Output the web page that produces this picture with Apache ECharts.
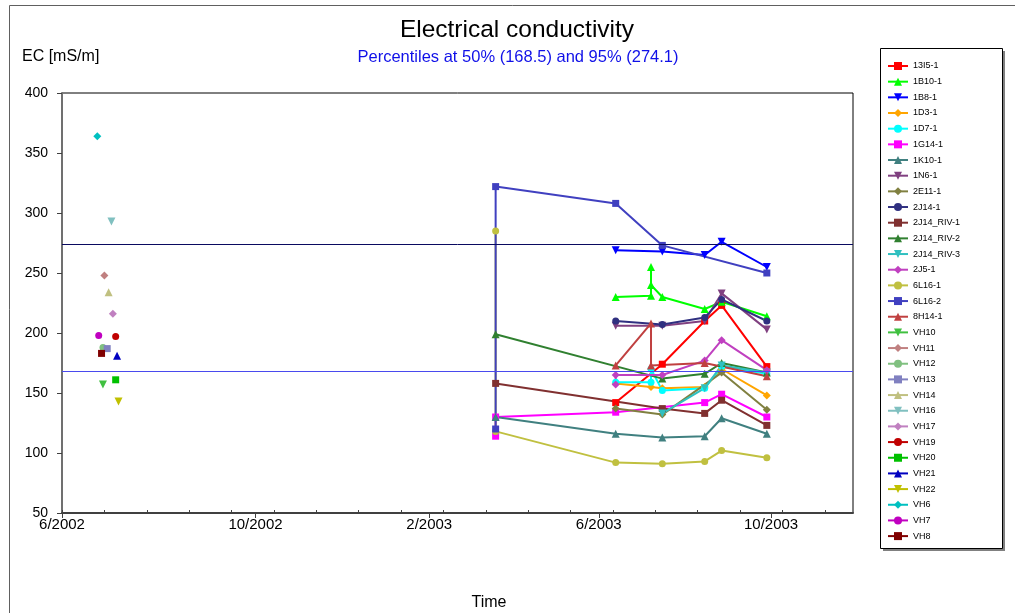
<!DOCTYPE html>
<html>
<head>
<meta charset="utf-8">
<script src="https://cdn.jsdelivr.net/npm/echarts@6/dist/echarts.min.js"></script>
<style>
  html, body { margin: 0; padding: 0; background: #fff; }
  #chart { width: 1015px; height: 613px; }
</style>
</head>
<body>
<div id="chart"></div>
<script>
// ---- texts and reference levels ----
const chartTitle = 'Electrical conductivity';
const yAxisTitle = 'EC [mS/m]';
const xAxisTitle = 'Time';
const p50 = 168.5;
const p95 = 274.1;

// ---- axes ----
const xRange = ['2002-05-17', '2003-11-28'];
const tickDates = ['2002-05-17', '2002-10-01', '2003-02-01', '2003-06-01', '2003-10-01'];
const tickLabels = ['6/2002', '10/2002', '2/2003', '6/2003', '10/2003'];
const yMin = 50, yMax = 400, yStep = 50;

// ---- stations ----
const seriesNames = ['13I5-1', '1B10-1', '1B8-1', '1D3-1', '1D7-1', '1G14-1', '1K10-1', '1N6-1',
  '2E11-1', '2J14-1', '2J14_RIV-1', '2J14_RIV-2', '2J14_RIV-3', '2J5-1', '6L16-1', '6L16-2',
  '8H14-1', 'VH10', 'VH11', 'VH12', 'VH13', 'VH14', 'VH16', 'VH17', 'VH19', 'VH20', 'VH21',
  'VH22', 'VH6', 'VH7', 'VH8'];

// ---- measurements: [date, EC] ----
const s13I5_1 = [['2003-06-13', 142], ['2003-07-16', 174], ['2003-08-15', 210], ['2003-08-27', 223], ['2003-09-28', 172]];
const s1B10_1 = [['2003-06-13', 230], ['2003-07-08', 231], ['2003-07-08', 255], ['2003-07-08', 240], ['2003-07-16', 230], ['2003-08-15', 220], ['2003-08-27', 226], ['2003-09-28', 214]];
const s1B8_1 = [['2003-06-13', 269], ['2003-07-16', 268], ['2003-08-15', 265], ['2003-08-27', 276], ['2003-09-28', 255]];
const s1D3_1 = [['2003-06-13', 158], ['2003-07-08', 155], ['2003-07-16', 154], ['2003-08-15', 155], ['2003-08-27', 170], ['2003-09-28', 148]];
const s1D7_1 = [['2003-06-13', 159], ['2003-07-08', 159], ['2003-07-08', 170], ['2003-07-16', 152], ['2003-08-15', 154], ['2003-08-27', 172], ['2003-09-28', 166]];
const s1G14_1 = [['2003-03-20', 114], ['2003-03-20', 130], ['2003-06-13', 134], ['2003-08-15', 142], ['2003-08-27', 149], ['2003-09-28', 130]];
const s1K10_1 = [['2003-03-20', 130], ['2003-06-13', 116], ['2003-07-16', 113], ['2003-08-15', 114], ['2003-08-27', 129], ['2003-09-28', 116]];
const s1N6_1 = [['2003-06-13', 206], ['2003-07-16', 206], ['2003-08-15', 210], ['2003-08-27', 233], ['2003-09-28', 203]];
const s2E11_1 = [['2003-06-13', 137], ['2003-07-16', 132], ['2003-08-27', 167], ['2003-09-28', 136]];
const s2J14_1 = [['2003-06-13', 210], ['2003-07-16', 207], ['2003-08-15', 213], ['2003-08-27', 228], ['2003-09-28', 210]];
const s2J14_RIV_1 = [['2003-03-20', 158], ['2003-07-16', 137], ['2003-08-15', 133], ['2003-08-27', 144], ['2003-09-28', 123]];
const s2J14_RIV_2 = [['2003-03-20', 199], ['2003-07-16', 162], ['2003-08-15', 166], ['2003-08-27', 175], ['2003-09-28', 167]];
const s2J14_RIV_3 = [['2003-07-16', 133], ['2003-08-15', 154], ['2003-08-27', 173], ['2003-09-28', 167]];
const s2J5_1 = [['2003-06-13', 157], ['2003-06-13', 165], ['2003-07-16', 165], ['2003-08-15', 177], ['2003-08-27', 194], ['2003-09-28', 169]];
const s6L16_1 = [['2003-03-20', 285], ['2003-03-20', 118], ['2003-06-13', 92], ['2003-07-16', 91], ['2003-08-15', 93], ['2003-08-27', 102], ['2003-09-28', 96]];
const s6L16_2 = [['2003-03-20', 120], ['2003-03-20', 322], ['2003-06-13', 308], ['2003-07-16', 273], ['2003-09-28', 250]];
const s8H14_1 = [['2003-06-13', 173], ['2003-07-08', 208], ['2003-07-08', 173], ['2003-08-15', 175], ['2003-09-28', 164]];
const sVH10 = [['2002-06-15', 157]];
const sVH11 = [['2002-06-16', 248]];
const sVH12 = [['2002-06-15', 188]];
const sVH13 = [['2002-06-18', 187]];
const sVH14 = [['2002-06-19', 234]];
const sVH16 = [['2002-06-21', 293]];
const sVH17 = [['2002-06-22', 216]];
const sVH19 = [['2002-06-24', 197]];
const sVH20 = [['2002-06-24', 161]];
const sVH21 = [['2002-06-25', 181]];
const sVH22 = [['2002-06-26', 143]];
const sVH6 = [['2002-06-11', 364]];
const sVH7 = [['2002-06-12', 198]];
const sVH8 = [['2002-06-14', 183]];

const seriesData = [s13I5_1, s1B10_1, s1B8_1, s1D3_1, s1D7_1, s1G14_1, s1K10_1, s1N6_1,
  s2E11_1, s2J14_1, s2J14_RIV_1, s2J14_RIV_2, s2J14_RIV_3, s2J5_1, s6L16_1, s6L16_2,
  s8H14_1, sVH10, sVH11, sVH12, sVH13, sVH14, sVH16, sVH17, sVH19, sVH20, sVH21,
  sVH22, sVH6, sVH7, sVH8];

// ---- per-series styling ----
const colors = ['#ff0000', '#00ff00', '#0000ff', '#ffa500', '#00ffff', '#ff00ff', '#408080', '#804080',
  '#808040', '#303080', '#803030', '#308030', '#30c0c0', '#c040c0', '#c0c040', '#4040c0',
  '#c04040', '#40c040', '#c08080', '#80c080', '#8080c0', '#c0c080', '#80c0c0', '#c080c0',
  '#c00000', '#00c000', '#0000c0', '#c0c000', '#00c0c0', '#c000c0', '#800000'];
// marker cycle: square, triangle, inverted triangle, diamond, circle
const shapeCycle = ['square', 'up', 'down', 'diamond', 'circle'];
const shapeStyle = {
  square:  { symbol: 'rect', size: 7, rotate: 0 },
  up:      { symbol: 'triangle', size: 8, rotate: 0 },
  down:    { symbol: 'triangle', size: 8, rotate: 180 },
  diamond: { symbol: 'diamond', size: 8, rotate: 0 },
  circle:  { symbol: 'circle', size: 7, rotate: 0 }
};

const FONT = 'Liberation Sans, Arial, Helvetica, sans-serif';
const DAY = 86400000;
// dates are plotted as UTC day timestamps on a linear axis
const t = s => Date.parse(s + 'T00:00:00Z');

const xMin = t(xRange[0]);
const xMax = t(xRange[1]);
const majorTicks = tickDates.map(t);
const labelOf = {};
majorTicks.forEach((v, i) => { labelOf[v] = tickLabels[i]; });
// small inside ticks every 30 days from the start of the axis
const minorTicks = [];
for (let v = xMin; v <= xMax; v += 30 * DAY) minorTicks.push(v);

const series = seriesNames.map((name, i) => {
  const sh = shapeStyle[shapeCycle[i % 5]];
  const s = {
    name,
    type: 'line',
    xAxisIndex: 0,
    data: seriesData[i].map(d => [t(d[0]), d[1]]),
    symbol: sh.symbol,
    symbolSize: sh.size,
    symbolRotate: sh.rotate,
    showSymbol: true,
    showAllSymbol: true,
    color: colors[i],
    lineStyle: { width: 2, color: colors[i] },
    itemStyle: { color: colors[i] },
    emphasis: { disabled: true }
  };
  if (i === 0) {
    s.markLine = {
      silent: true,
      symbol: ['none', 'none'],
      label: { show: false },
      animation: false,
      data: [
        { yAxis: p95, lineStyle: { color: '#0a0a60', width: 1, type: 'solid' } },
        { yAxis: p50, lineStyle: { color: '#4a4aee', width: 1.2, type: 'solid' } }
      ]
    };
  }
  return s;
});

const chart = echarts.init(document.getElementById('chart'), null, { renderer: 'canvas' });
chart.setOption({
  animation: false,
  backgroundColor: '#ffffff',
  textStyle: { fontFamily: FONT },
  grid: {
    left: 62, top: 93, width: 791, height: 420,
    show: true, borderColor: '#000000', borderWidth: 1, backgroundColor: 'transparent'
  },
  xAxis: [
    {
      type: 'value', min: xMin, max: xMax, position: 'bottom', scale: true,
      axisLine: { show: true, onZero: false, lineStyle: { color: '#404040', width: 2 } },
      axisTick: { show: true, inside: false, length: 5, customValues: majorTicks, lineStyle: { color: '#404040', width: 1 } },
      axisLabel: {
        show: true, customValues: majorTicks, margin: 4, fontSize: 15, fontFamily: FONT, color: '#000',
        formatter: v => labelOf[v] || '', hideOverlap: false
      },
      splitLine: { show: false }
    },
    {
      type: 'value', min: xMin, max: xMax, position: 'bottom', gridIndex: 0, scale: true,
      axisLine: { show: false, onZero: false },
      axisTick: { show: true, inside: true, length: 3, customValues: minorTicks, lineStyle: { color: '#404040', width: 1 } },
      axisLabel: { show: false, customValues: minorTicks },
      splitLine: { show: false }
    }
  ],
  yAxis: {
    type: 'value', min: yMin, max: yMax, interval: yStep,
    axisLine: { show: true, lineStyle: { color: '#707070', width: 2 } },
    axisTick: { show: true, inside: false, length: 5, lineStyle: { color: '#404040', width: 1 } },
    axisLabel: { margin: 14, fontSize: 14, fontFamily: FONT, color: '#000' },
    splitLine: { show: false }
  },
  legend: {
    orient: 'vertical',
    left: 887, top: 61,
    padding: 0,
    itemWidth: 20, itemHeight: 10, itemGap: 5.67,
    textStyle: { fontSize: 9, fontFamily: FONT, color: '#000', lineHeight: 10 },
    data: seriesNames,
    selectedMode: false
  },
  graphic: [
    { type: 'rect', z: -10, silent: true, shape: { x: 9.5, y: 5.5, width: 1200, height: 800 },
      style: { fill: 'none', stroke: '#606060', lineWidth: 1 } },
    // legend frame with a flat drop shadow
    { type: 'rect', z: -6, silent: true, shape: { x: 883, y: 51, width: 122, height: 500 },
      style: { fill: '#808080', stroke: 'none' } },
    { type: 'rect', z: -5, silent: true, shape: { x: 880.5, y: 48.5, width: 122, height: 500 },
      style: { fill: '#ffffff', stroke: '#000000', lineWidth: 1 } },
    { type: 'text', silent: true, x: 517, y: 30,
      style: { text: chartTitle, fontSize: 24.5, fontFamily: FONT, fill: '#000', align: 'center', verticalAlign: 'middle' } },
    { type: 'text', silent: true, x: 518, y: 57,
      style: { text: 'Percentiles at 50% (' + p50 + ') and 95% (' + p95 + ')', fontSize: 16.5, fontFamily: FONT, fill: '#1010e8', align: 'center', verticalAlign: 'middle' } },
    { type: 'text', silent: true, x: 22, y: 57,
      style: { text: yAxisTitle, fontSize: 16, fontFamily: FONT, fill: '#000', align: 'left', verticalAlign: 'middle' } },
    { type: 'text', silent: true, x: 489, y: 603,
      style: { text: xAxisTitle, fontSize: 16, fontFamily: FONT, fill: '#000', align: 'center', verticalAlign: 'middle' } }
  ],
  series
});
</script>
</body>
</html>
